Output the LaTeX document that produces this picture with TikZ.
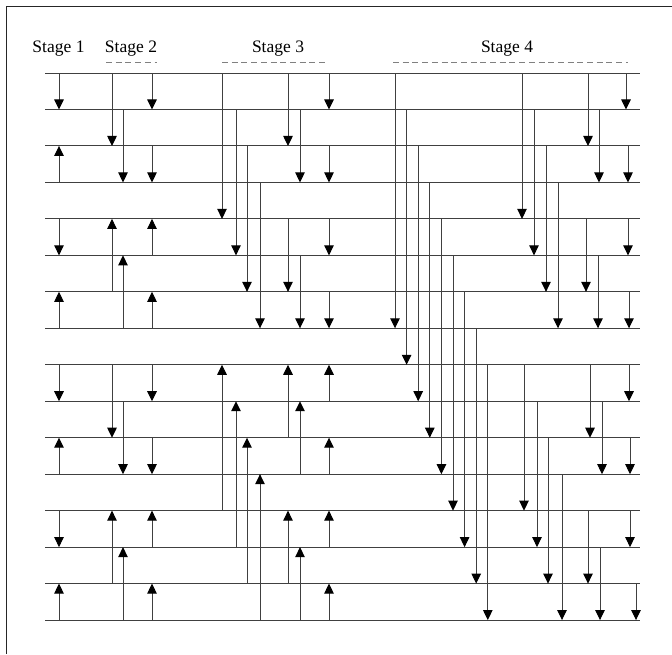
\documentclass[tikz,border=0pt]{standalone}
\usepackage{fontspec}
\setmainfont{Liberation Serif}
\usetikzlibrary{arrows.meta}

\tikzset{
  wire/.style={draw=black!75,line width=1pt},
  cmpline/.style={draw=black!75,line width=1pt,-{Triangle[width=9.5pt,length=10pt,color=black]}},
  stagedash/.style={draw=black!50,line width=1pt,dash pattern=on 6pt off 3.7pt},
  stagelbl/.style={anchor=base,inner sep=0pt,font=\fontsize{17.5}{20}\selectfont}
}
% one comparator: x, from wire, to wire (tip at the second)
\newcommand{\cmpar}[3]{\draw[cmpline] (#1,0 |- w#2) -- (#1,0 |- w#3);}

\begin{document}
\begin{tikzpicture}[x=1pt,y=-1pt]
  \useasboundingbox (0,0) rectangle (672,654);
  \draw[line width=1pt,black!85] (672,6) -- (6,6) -- (6,654);

  % stage titles
  \node[stagelbl] (s1) at (58.5,52) {Stage 1};
  \node[stagelbl] (s2) at (131,52) {Stage 2};
  \node[stagelbl] (s3) at (278,52) {Stage 3};
  \node[stagelbl] (s4) at (507,52) {Stage 4};
  \draw[stagedash] (106,62) -- (157,62);
  \draw[stagedash] (222,62) -- (328,62);
  \draw[stagedash] (393,62) -- (628,62);

  % the 16 wires
  \foreach \i in {0,...,15} {
    \coordinate (w\i) at (45,73+36.47*\i);
    \coordinate (w\i e) at (640,73+36.47*\i);
    \draw[wire] (w\i) -- (w\i e);
  }

  % stage 1
  \foreach \a/\b in {0/1,3/2,4/5,7/6,8/9,11/10,12/13,15/14} {\cmpar{59}{\a}{\b}}

  % stage 2
  \foreach \a/\b in {0/2,6/4,8/10,14/12} {\cmpar{112}{\a}{\b}}
  \foreach \a/\b in {1/3,7/5,9/11,15/13} {\cmpar{123}{\a}{\b}}
  \foreach \a/\b in {0/1,2/3,5/4,7/6,8/9,10/11,13/12,15/14} {\cmpar{152}{\a}{\b}}

  % stage 3
  \foreach \x/\a/\b in {222/0/4,236/1/5,247/2/6,260/3/7,
                        222/12/8,236/13/9,247/14/10,260/15/11} {\cmpar{\x}{\a}{\b}}
  \foreach \a/\b in {0/2,4/6,10/8,14/12} {\cmpar{288}{\a}{\b}}
  \foreach \a/\b in {1/3,5/7,11/9,15/13} {\cmpar{300}{\a}{\b}}
  \foreach \a/\b in {0/1,2/3,4/5,6/7,9/8,11/10,13/12,15/14} {\cmpar{329}{\a}{\b}}

  % stage 4
  \foreach \k in {0,...,8} {
    \pgfmathtruncatemacro{\kk}{\k+7}
    \cmpar{395+11.6*\k}{\k}{\kk}
  }
  \foreach \x/\a/\b in {522/0/4,534/1/5,546/2/6,558/3/7,
                        524/8/12,537/9/13,548/10/14,562/11/15} {\cmpar{\x}{\a}{\b}}
  \foreach \x/\a/\b in {588/0/2,599/1/3,586/4/6,598/5/7,
                        590/8/10,602/9/11,588/12/14,600/13/15} {\cmpar{\x}{\a}{\b}}
  \foreach \x/\a/\b in {626/0/1,628/2/3,628/4/5,629/6/7,
                        629/8/9,630/10/11,630/12/13,636/14/15} {\cmpar{\x}{\a}{\b}}
\end{tikzpicture}
\end{document}
